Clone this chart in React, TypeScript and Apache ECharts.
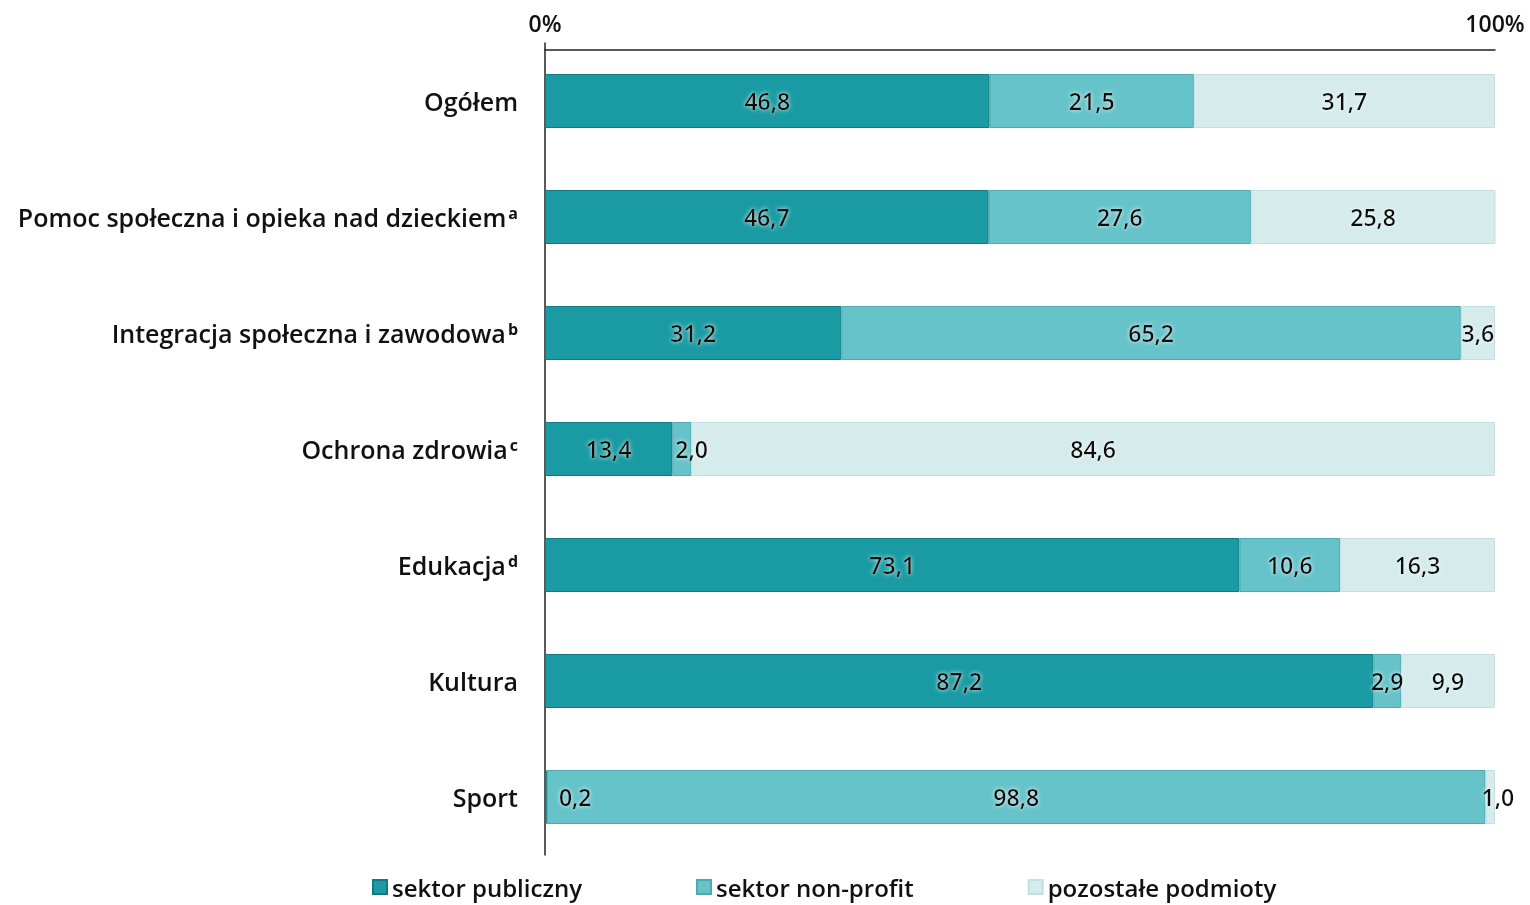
import React, { useEffect, useRef } from "react";
import * as echarts from "echarts";

const categories = [
  "Ogółem",
  "Pomoc społeczna i opieka nad dzieckiem",
  "Integracja społeczna i zawodowa",
  "Ochrona zdrowia",
  "Edukacja",
  "Kultura",
  "Sport",
];
const superscripts = ["", "a", "b", "c", "d", "", ""];
const seriesNames = ["sektor publiczny", "sektor non-profit", "pozostałe podmioty"];
const publicSector = [46.8, 46.7, 31.2, 13.4, 73.1, 87.2, 0.2];
const nonProfit = [21.5, 27.6, 65.2, 2.0, 10.6, 2.9, 98.8];
const others = [31.7, 25.8, 3.6, 84.6, 16.3, 9.9, 1.0];
const axisTicks = [0, 100];

const COLORS = ["#1a9ba3", "#66c3c9", "#d5ebec"];
const BORDERS = ["#137a80", "#4fa9af", "#c3dfe1"];
const FONT = "'Open Sans', 'Noto Sans', sans-serif";

const fmt = (v: number) => v.toFixed(1).replace(".", ",");

export default function App() {
  const ref = useRef<HTMLDivElement>(null);
  useEffect(() => {
    if (!ref.current) return;
    const chart = echarts.init(ref.current, undefined, { renderer: "svg" });
    const labelBase = {
      show: true,
      position: "inside",
      fontFamily: FONT,
      fontSize: 23,
      fontWeight: 600,
      color: "#111",
      textShadowColor: "rgba(255,255,255,0.85)",
      textShadowBlur: 4,
      formatter: (p: any) => fmt(p.value),
    };
    const makeData = (arr: number[], overrides: Record<number, any>) =>
      arr.map((v, i) => (overrides[i] ? { value: v, label: overrides[i] } : v));
    const datas = [
      makeData(publicSector, { 6: { position: "right", distance: 12 } }),
      makeData(nonProfit, { 3: { position: "insideLeft", distance: 3 } }),
      makeData(others, { 6: { position: "insideLeft", distance: 0, offset: [-4, 0] } }),
    ];
    const series = [publicSector, nonProfit, others].map((_, k) => ({
      name: seriesNames[k],
      type: "bar",
      stack: "total",
      barWidth: 54,
      data: datas[k],
      itemStyle: { color: COLORS[k], borderColor: BORDERS[k], borderWidth: 1 },
      label: labelBase,
    }));
    chart.setOption({
      animation: false,
      grid: { left: 545, right: 35, top: 43, bottom: 50, containLabel: false },
      xAxis: {
        type: "value",
        position: "top",
        offset: -7,
        min: axisTicks[0],
        max: axisTicks[axisTicks.length - 1],
        interval: 100,
        axisLine: { show: true, lineStyle: { color: "#222", width: 1.5 } },
        axisTick: { show: false },
        splitLine: { show: false },
        axisLabel: {
          margin: 16,
          fontFamily: FONT,
          fontSize: 23,
          fontWeight: 600,
          color: "#111",
          formatter: "{value}%",
        },
      },
      yAxis: {
        type: "category",
        inverse: true,
        data: categories,
        axisLine: { show: true, lineStyle: { color: "#222", width: 1.5 } },
        axisTick: { show: false },
        axisLabel: {
          margin: 27,
          formatter: (v: string, i: number) =>
            superscripts[i] ? `{n|${v}}{s|${superscripts[i]}}` : `{n|${v}}`,
          rich: {
            n: { fontFamily: FONT, fontSize: 25, fontWeight: 600, color: "#111" },
            s: { fontFamily: FONT, fontSize: 16, fontWeight: 700, color: "#111", verticalAlign: "top", padding: [0, 0, 0, 2] },
          },
        },
      },
      legend: {
        left: 367,
        top: 870,
        itemGap: 114,
        itemWidth: 14,
        itemHeight: 14,
        icon: "rect",
        textStyle: { fontFamily: FONT, fontSize: 24, fontWeight: 600, color: "#111", padding: [0, 0, 0, 0] },
        data: seriesNames,
      },
      series,
    });
    return () => chart.dispose();
  }, []);
  return (
    <div
      ref={ref}
      style={{ position: "fixed", left: 0, top: 0, width: 1530, height: 905 }}
    />
  );
}
